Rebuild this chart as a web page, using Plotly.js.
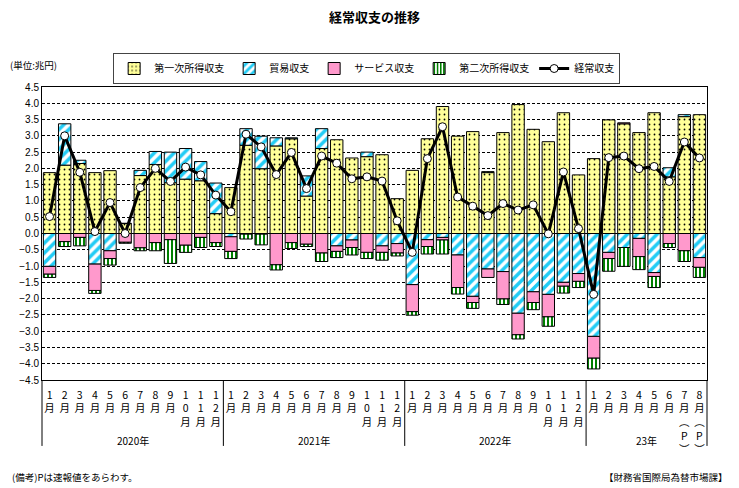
<!DOCTYPE html>
<html><head><meta charset="utf-8">
<script src="https://cdn.plot.ly/plotly-3.0.1.min.js"></script>
<style>html,body{margin:0;padding:0;background:#fff;}#chart{width:739px;height:488px;}</style>
</head><body><div id="chart"></div>
<script>
const categories = [
 "2020-01","2020-02","2020-03","2020-04","2020-05","2020-06","2020-07","2020-08","2020-09","2020-10","2020-11","2020-12",
 "2021-01","2021-02","2021-03","2021-04","2021-05","2021-06","2021-07","2021-08","2021-09","2021-10","2021-11","2021-12",
 "2022-01","2022-02","2022-03","2022-04","2022-05","2022-06","2022-07","2022-08","2022-09","2022-10","2022-11","2022-12",
 "2023-01","2023-02","2023-03","2023-04","2023-05","2023-06","2023-07","2023-08"];
const monthLabels = [
 "1月","2月","3月","4月","5月","6月","7月","8月","9月","10月","11月","12月",
 "1月","2月","3月","4月","5月","6月","7月","8月","9月","10月","11月","12月",
 "1月","2月","3月","4月","5月","6月","7月","8月","9月","10月","11月","12月",
 "1月","2月","3月","4月","5月","6月","7月(P)","8月(P)"];
const yearLabels = ["2020年","2021年","2022年","23年"];
const yearStart = [0, 12, 24, 36];
const yearEnd = [11, 23, 35, 43];

const primaryIncome = [
 1.87,2.10,2.15,1.87,1.93,0.31,1.78,2.12,1.56,1.67,1.62,0.61,
 1.41,2.71,1.99,2.69,2.91,1.15,2.61,2.88,2.32,2.36,2.42,1.07,
 1.94,2.91,3.90,2.99,3.13,1.87,3.10,3.96,3.20,2.82,3.71,1.80,
 2.30,3.49,3.37,3.10,3.71,1.74,3.59,3.65];
const tradeBalance = [
 -1.01,1.27,0.10,-0.94,-0.53,0.00,0.16,0.40,0.94,0.94,0.59,0.94,
 -0.10,0.51,1.00,0.25,0.03,0.62,0.61,-0.38,-0.20,0.14,-0.38,-0.31,
 -1.57,-0.19,-0.12,-0.66,-1.93,-1.09,-1.17,-2.45,-1.79,-1.87,-1.50,-1.23,
 -3.16,-0.58,-0.43,-0.15,-1.20,0.28,0.06,-0.74];
const servicesBalance = [
 -0.24,-0.25,-0.12,-0.81,-0.24,-0.27,-0.44,-0.28,-0.19,-0.36,-0.12,-0.28,
 -0.45,-0.02,-0.02,-0.96,-0.28,-0.33,-0.60,-0.17,-0.23,-0.58,-0.20,-0.29,
 -0.83,-0.21,-0.08,-1.00,-0.19,-0.26,-0.84,-0.66,-0.33,-0.69,-0.12,-0.24,
 -0.67,-0.19,0.03,-0.56,-0.12,-0.31,-0.53,-0.30];
const secondaryIncome = [
 -0.10,-0.15,-0.26,-0.09,-0.20,-0.03,-0.09,-0.25,-0.73,-0.22,-0.31,-0.12,
 -0.22,-0.15,-0.33,-0.16,-0.18,-0.07,-0.26,-0.19,-0.23,-0.19,-0.24,-0.09,
 -0.11,-0.23,-0.43,-0.20,-0.18,0.03,-0.17,-0.13,-0.22,-0.29,-0.21,-0.19,
 -0.33,-0.39,-0.58,-0.40,-0.34,-0.12,-0.33,-0.31];
const currentAccount = [
 0.52,3.00,1.88,0.06,0.95,0.00,1.41,2.00,1.60,2.04,1.80,1.18,
 0.67,3.05,2.66,1.81,2.49,1.38,2.38,2.16,1.68,1.74,1.61,0.39,
 -0.58,2.30,3.28,1.12,0.84,0.55,0.92,0.72,0.88,-0.01,1.89,0.15,
 -1.87,2.33,2.38,1.99,2.06,1.60,2.81,2.32];

const seriesNames = ["第一次所得収支","貿易収支","サービス収支","第二次所得収支","経常収支"];

const JP = '"Noto Sans CJK JP", sans-serif';
const vert = s => s.replace('(', '︵').replace(')', '︶').split('').join('<br>');
const ticktext = monthLabels.map(vert);

const outline = {color: '#000', width: 1};
const traces = [
 {type:'bar', name: seriesNames[0], x: categories, y: primaryIncome,
  marker:{color:'#FFFF99', line: outline, pattern:{shape:'.', fgcolor:'#000', bgcolor:'#FFFF99', size:5, solidity:0.1}}},
 {type:'bar', name: seriesNames[1], x: categories, y: tradeBalance,
  marker:{color:'#33CCFF', line: outline, pattern:{shape:'/', fgcolor:'#22CCF5', bgcolor:'#FFFFFF', size:7, solidity:0.5}}},
 {type:'bar', name: seriesNames[2], x: categories, y: servicesBalance,
  marker:{color:'#FF99CC', line: outline}},
 {type:'bar', name: seriesNames[3], x: categories, y: secondaryIncome,
  marker:{color:'#008000', line: outline, pattern:{shape:'|', fgcolor:'#008000', bgcolor:'#FFFFFF', size:4, solidity:0.5}}},
 {type:'scatter', mode:'lines+markers', name: seriesNames[4], x: categories, y: currentAccount,
  line:{color:'#000', width:3}, marker:{symbol:'circle', size:8, color:'#fff', line:{color:'#000', width:1}}}
];

const shapes = [];
const annotations = [];
const sepBottom = -0.225;
shapes.push({type:'line', xref:'paper', yref:'paper', x0:0, x1:0, y0:0, y1:sepBottom, line:{color:'#000', width:1}});
shapes.push({type:'line', xref:'paper', yref:'paper', x0:1, x1:1, y0:0, y1:sepBottom, line:{color:'#000', width:1}});
for (let i = 0; i < yearLabels.length; i++) {
  if (i > 0) shapes.push({type:'line', xref:'x', yref:'paper', x0: yearStart[i]-0.5, x1: yearStart[i]-0.5, y0:0, y1:sepBottom, line:{color:'#000', width:1}});
  annotations.push({xref:'x', yref:'paper', x:(yearStart[i]+yearEnd[i])/2, y:-0.208, yanchor:'middle', xanchor:'center', text: yearLabels[i], showarrow:false, font:{family:JP, size:10, color:'#000'}});
}
annotations.push({xref:'paper', yref:'paper', x:-0.051, y:1.075, xanchor:'left', yanchor:'middle', text:'(単位:兆円)', showarrow:false, font:{family:JP, size:9.5, color:'#000'}});
annotations.push({xref:'paper', yref:'paper', x:-0.048, y:-0.331, xanchor:'left', yanchor:'middle', text:'(備考)Pは速報値をあらわす。', showarrow:false, font:{family:JP, size:9.5, color:'#000'}});
annotations.push({xref:'paper', yref:'paper', x:1.035, y:-0.331, xanchor:'right', yanchor:'middle', text:'【財務省国際局為替市場課】', showarrow:false, font:{family:JP, size:9.5, color:'#000'}});

const layout = {
  width: 739, height: 488,
  margin: {l:42, r:32, t:87, b:108},
  paper_bgcolor:'#fff', plot_bgcolor:'#fff',
  title: {text:'<b>経常収支の推移</b>', x:0.5, xref:'paper', y:0.965, yanchor:'middle', font:{family:JP, size:13, color:'#000'}},
  barmode:'relative', bargap:0.18,
  showlegend:true,
  legend: {orientation:'h', x:0.107, y:1.116, xanchor:'left', yanchor:'top',
    bordercolor:'#444', borderwidth:1, bgcolor:'#fff', font:{family:JP, size:10, color:'#000'},
    traceorder:'normal', itemwidth:30},
  xaxis: {type:'category', range:[-0.5, 43.5], tickmode:'array', tickvals: categories, ticktext: ticktext,
    tickangle:0, ticks:'', ticklabelstandoff:5, showgrid:false, zeroline:false, showline:true, linecolor:'#000', linewidth:1, mirror:true,
    tickfont:{family:JP, size:10.5, color:'#000'}, fixedrange:true},
  yaxis: {range:[-4.5, 4.5], dtick:0.5, tick0:0, tickformat:'.1f', showgrid:true, gridcolor:'#000', gridwidth:1, griddash:'3px,2px',
    zeroline:true, zerolinecolor:'#000', zerolinewidth:1, showline:true, linecolor:'#000', linewidth:1, mirror:true,
    ticks:'', tickfont:{family:'"Liberation Sans", Arial, sans-serif', size:10, color:'#000'}, fixedrange:true},
  shapes: shapes, annotations: annotations
};
Plotly.newPlot('chart', traces, layout, {displayModeBar:false, staticPlot:true});
</script></body></html>
